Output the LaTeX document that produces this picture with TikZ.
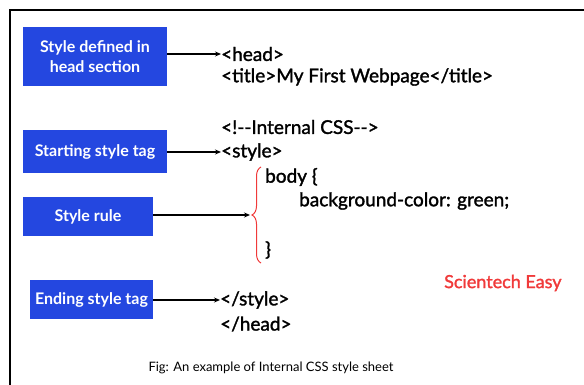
\documentclass[tikz,border=0pt]{standalone}
\usepackage{fontspec}
\setmainfont{Lato}
\newfontfamily\codefont[FakeBold=1.6]{Lato}
\usetikzlibrary{arrows.meta,decorations.pathreplacing}
\definecolor{boxblue}{HTML}{2447E0}
\definecolor{bracered}{HTML}{F03A3A}
\tikzset{
  tagbox/.style={fill=boxblue, text=white, font=\bfseries\fontsize{16}{20}\selectfont, align=center, inner sep=0pt},
  code/.style={anchor=west, inner sep=0pt, font=\codefont\fontsize{19}{21}\selectfont},
  link/.style={line width=1.3pt, -{Stealth[length=6pt,width=5pt]}},
}
\begin{document}
\begin{tikzpicture}[x=1pt,y=-1pt]
  \useasboundingbox (0,0) rectangle (584,385);
  \draw[line width=2pt] (10,385) -- (10,10) -- (584,10);

  \node[tagbox, minimum width=144pt, minimum height=59pt] (defined) at (95,56.5) {Style defined in\\head section};
  \node[tagbox, minimum width=144pt, minimum height=43pt] (start) at (95,151.5) {Starting style tag};
  \node[tagbox, minimum width=130pt, minimum height=39pt] (rule) at (88,216.5) {Style rule};
  \node[tagbox, minimum width=123pt, minimum height=39pt] (ending) at (91.5,299.5) {Ending style tag};

  \node[code] (head) at (221,54) {<head>};
  \node[code] (title) at (221,77) {<title>My First Webpage</title>};
  \node[code] (comment) at (221,127) {<!{-}{-}Internal CSS{-}{-}>};
  \node[code] (style) at (221,152) {<style>};
  \node[code] (body) at (265,177) {body \{};
  \node[code] (bg) at (299,201) {background-color: green;};
  \node[code] (close) at (265,250) {\}};
  \node[code] (endstyle) at (220,300) {</style>};
  \node[code] (endhead) at (220,324) {</head>};

  \node[anchor=west, inner sep=0pt, text=bracered, font=\codefont\fontsize{18}{20}\selectfont] (brand) at (444,283) {Scientech Easy};
  \node[inner sep=0pt, font=\fontsize{13}{15}\selectfont] (caption) at (271,368) {Fig: An example of Internal CSS style sheet};

  % brace round the rule
  \draw[bracered, line width=1pt, decorate, decoration={brace, amplitude=9pt}] (261,263) -- (261,167);
  \coordinate (tip) at (250,215);

  \draw[link] (defined.east |- head.west) -- (head.west);
  \draw[link] (start.east |- style.west) -- (style.west);
  \draw[link] (rule.east |- tip) -- (tip);
  \draw[link] (ending.east |- endstyle.west) -- (endstyle.west);
\end{tikzpicture}
\end{document}
